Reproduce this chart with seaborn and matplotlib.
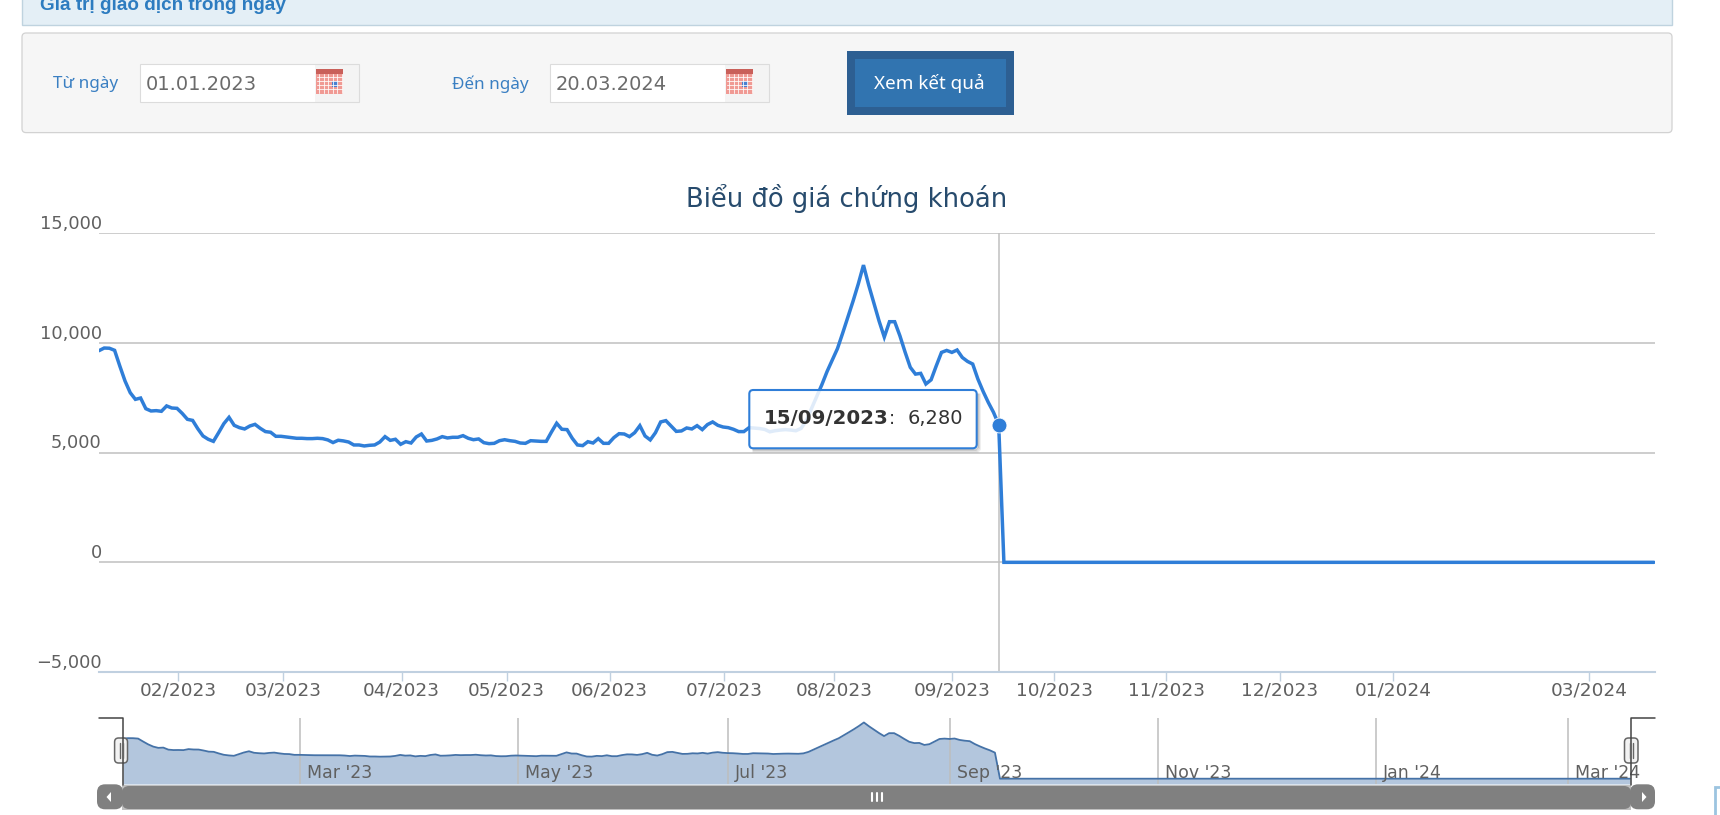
import numpy as np
import pandas as pd
import matplotlib
matplotlib.use('Agg')
import matplotlib.pyplot as plt
import matplotlib.transforms as mtrans
from matplotlib.patches import FancyBboxPatch, Rectangle, Polygon
import seaborn as sns

# --- data (one value per trading day) ---
prices_traded = [
    9650, 9770, 9760, 9665, 8950, 8270, 7735, 7430, 7490, 7005,
    6900, 6915, 6885, 7130, 7035, 7020, 6790, 6520, 6470, 6090,
    5760, 5610, 5515, 5910, 6320, 6610, 6245, 6140, 6080, 6215,
    6290, 6110, 5960, 5930, 5745, 5745, 5715, 5685, 5655, 5655,
    5640, 5640, 5655, 5640, 5580, 5460, 5565, 5535, 5485, 5350,
    5350, 5305, 5335, 5350, 5485, 5730, 5560, 5610, 5380, 5500,
    5440, 5715, 5850, 5530, 5560, 5625, 5730, 5670, 5700, 5700,
    5775, 5655, 5590, 5625, 5455, 5410, 5425, 5545, 5590, 5545,
    5515, 5440, 5425, 5545, 5530, 5515, 5515, 5940, 6340, 6065,
    6050, 5655, 5350, 5320, 5500, 5440, 5640, 5425, 5425, 5685,
    5865, 5850, 5730, 5910, 6230, 5760, 5580, 5910, 6400, 6460,
    6215, 5970, 5990, 6125, 6080, 6230, 6050, 6280, 6400, 6245,
    6170, 6140, 6065, 5960, 5960, 6140, 6120, 6100, 6060, 5950,
    6000, 6030, 6050, 6030, 6000, 6105, 6455, 7010, 7550, 8100,
    8700, 9220, 9745, 10450, 11180, 11910, 12690, 13550, 12640, 11820,
    11000, 10270, 10970, 10970, 10330, 9585, 8890, 8580, 8615, 8130,
    8320, 8960, 9570, 9660, 9570, 9680, 9340, 9160, 9040, 8355,
    7795, 7290, 6840, 6280,
]
prices_after = [0] * 126

month_pos = [15.2, 35.4, 58.2, 78.4, 98.2, 120.2, 141.4, 164, 183.7, 205.2, 227, 248.8, 286.6]
month_labels = ['02/2023', '03/2023', '04/2023', '05/2023', '06/2023', '07/2023', '08/2023',
                '09/2023', '10/2023', '11/2023', '12/2023', '01/2024', '03/2024']
y_ticks = [-5000, 0, 5000, 10000, 15000]
y_labels = ['\u22125,000', '0', '5,000', '10,000', '15,000']
nav_pos = [35.2, 78.4, 120, 164, 205.4, 248.6, 286.7]
nav_labels = ["Mar '23", "May '23", "Jul '23", "Sep '23", "Nov '23", "Jan '24", "Mar '24"]
hover_idx = 173

df = pd.DataFrame({'price': prices_traded + prices_after})
df['idx'] = np.arange(len(df))

W, H = 1720, 815
BLUE = '#2f7ed8'
GRID = '#c0c0c0'
AXIS = '#c0d0e0'
TEXT = '#606060'

sns.set_theme(style='white')
plt.rcParams['font.family'] = ['DejaVu Sans']

fig = plt.figure(figsize=(W / 100, H / 100), dpi=100, facecolor='white')


def box(x0, y0, x1, y1):
    return [x0 / W, 1 - y1 / H, (x1 - x0) / W, (y1 - y0) / H]


# --- main chart ---
ax = fig.add_axes(box(99, 233.3, 1655, 672))
ax.patch.set_alpha(0)
sns.lineplot(data=df, x='idx', y='price', ax=ax, color=BLUE, linewidth=2.5,
             estimator=None, legend=False, solid_joinstyle='miter', zorder=4)
ax.set_xlim(0, 299.2)
ax.set_ylim(-5000, 15000)
ax.set_xlabel('')
ax.set_ylabel('')
sns.despine(ax=ax, left=True, top=True, right=True)
ax.spines['bottom'].set_color(AXIS)
ax.spines['bottom'].set_linewidth(1.5)
ax.set_yticks(y_ticks)
ax.set_yticklabels(y_labels, fontsize=12.8, color=TEXT, va='baseline')
ax.set_xticks(month_pos)
ax.set_xticklabels(month_labels, fontsize=13.3, color=TEXT)
ax.tick_params(axis='y', length=0, pad=-2)
ax.tick_params(axis='x', bottom=True, length=6.5, width=1, color=AXIS, pad=0)
ax.grid(axis='y', color=GRID, linewidth=1.1)
ax.set_axisbelow(True)
up = mtrans.ScaledTranslation(0, 4.3 / 100, fig.dpi_scale_trans)
for lab in ax.get_yticklabels():
    lab.set_transform(lab.get_transform() + up)
ax.axvline(hover_idx, color=GRID, linewidth=1.1, zorder=2)
ax.scatter([hover_idx], [df['price'][hover_idx]], s=115, color=BLUE, edgecolor='white',
           linewidth=0.6, zorder=6, clip_on=False)
ax.set_title('Biểu đồ giá chứng khoán', fontsize=18.6, color='#274b6d',
             x=(847 - 99) / 1556, y=1.0, pad=19)

# --- navigator ---
nav = fig.add_axes(box(123, 718, 1631, 784))
nav.patch.set_alpha(0)
nav.fill_between(df['idx'], df['price'], -1277, color='#b3c6dd', linewidth=0)
sns.lineplot(data=df, x='idx', y='price', ax=nav, color='#4572a7', linewidth=1.3,
             estimator=None, legend=False)
nav.set_xlim(0, 299.2)
nav.set_ylim(-1277, 14626)
nav.set_xlabel('')
nav.set_ylabel('')
nav.set_xticks([])
nav.set_yticks([])
sns.despine(ax=nav, left=True, bottom=True)
for p, lab in zip(nav_pos, nav_labels):
    nav.axvline(p, color='#bdbdbd', linewidth=1.1, zorder=1)
    nav.annotate(lab, (p, 0), xycoords=('data', 'axes fraction'), xytext=(7, 6.5),
                 textcoords='offset pixels', fontsize=12.5, color=TEXT, ha='left',
                 va='baseline', annotation_clip=False)

# --- page around the chart, in pixel coordinates ---
pg = fig.add_axes([0, 0, 1, 1], zorder=10)
pg.set_xlim(0, W)
pg.set_ylim(H, 0)
pg.axis('off')
pg.patch.set_alpha(0)


def rbox(x0, y0, x1, y1, r, **kw):
    p = FancyBboxPatch((x0 + r, y0 + r), x1 - x0 - 2 * r, y1 - y0 - 2 * r,
                       boxstyle=f'round,pad={r},rounding_size={r}', **kw)
    pg.add_patch(p)
    return p


def rect(x0, y0, x1, y1, **kw):
    pg.add_patch(Rectangle((x0, y0), x1 - x0, y1 - y0, **kw))


# header strip and form panel
rect(22, -5, 1672, 24.5, facecolor='#e4eff6', edgecolor='#bfd3df', linewidth=1)
pg.text(40, 10.5, 'Giá trị giao dịch trong ngày', fontsize=13.6, fontweight='bold',
        color='#2d7cc0', family='Liberation Sans', va='baseline')
rbox(22, 33, 1672, 132.6, 4, facecolor='#f6f6f6', edgecolor='#d2d2d2', linewidth=0.9)


def calendar(x0, y0):
    rect(x0 - 1.5, y0 - 5, x0 + 43, y0 + 32.7, facecolor='#f4f4f4', edgecolor='none')
    rect(x0, y0, x0 + 27, y0 + 25, facecolor='#f09a94', edgecolor='none')
    rect(x0, y0, x0 + 27, y0 + 5, facecolor='#c9605a', edgecolor='none')
    for gx in np.arange(x0 + 3, x0 + 27, 4.5):
        pg.plot([gx, gx], [y0 + 5, y0 + 24], color='white', lw=0.7, alpha=0.8)
    for gy in np.arange(y0 + 8, y0 + 24, 4):
        pg.plot([x0 + 1, x0 + 26], [gy, gy], color='white', lw=0.7, alpha=0.8)
    rect(x0 + 16, y0 + 12, x0 + 22, y0 + 18, facecolor='#4a80d0', edgecolor='none')


for x0, x1, label_x, label, value, value_x in [
        (140, 359, 53, 'Từ ngày', '01.01.2023', 146),
        (550, 769, 452.5, 'Đến ngày', '20.03.2024', 556)]:
    rect(x0, 64, x1, 101.7, facecolor='white', edgecolor='none')
    calendar(x1 - 43, 69)
    rect(x0, 64, x1, 101.7, facecolor='none', edgecolor='#dcdcdc', linewidth=0.8)
    pg.text(label_x, 84, label, fontsize=12.3, color='#3a7fc2', family='Noto Sans', va='center')
    pg.text(value_x, 84, value, fontsize=14, color='#6b6b6b', va='center')

rect(847, 51, 1013.7, 115, facecolor='#2d5f92', edgecolor='none')
rect(855, 59, 1006, 107, facecolor='#3174b0', edgecolor='none')
pg.text(929.5, 83.5, 'Xem kết quả', fontsize=13.6, color='white', family='Noto Sans',
        ha='center', va='center')

# tooltip: soft shadow along the lower and right edges only, so the box stays white
for off, a in [(3.5, 0.07), (2.5, 0.12), (1.5, 0.2)]:
    pg.plot([753, 976.7 + off - 2, 976.7 + off, 976.7 + off],
            [448.3 + off, 448.3 + off, 446 + off, 394], color='black', alpha=a, lw=1)
rbox(749.3, 390, 976.7, 448.3, 4, facecolor=(1, 1, 1, 0.85), edgecolor=BLUE, linewidth=1.5)
pg.text(764, 418, '15/09/2023', fontsize=14.2, fontweight='bold', color='#333333', va='center')
pg.text(889, 418, ':', fontsize=13.4, color='#333333', va='center')
pg.text(963, 418, '6,280', fontsize=14, color='#333333', ha='right', va='center')

# navigator handles
for xl, xe, h0, h1 in [(123, 99, 114.6, 127.5), (1631, 1655, 1624.5, 1638)]:
    pg.plot([xe, xl, xl], [718.3, 718.3, 785], color='#444444', lw=1.1)
    rbox(h0, 738, h1, 763, 4, facecolor='#f2f2f2', edgecolor='#666666', linewidth=1.1)
    mid = (h0 + h1) / 2
    pg.plot([mid - 1.5, mid - 1.5], [743, 758], color='#666666', lw=1)
    pg.plot([mid + 1.5, mid + 1.5], [743, 758], color='#666666', lw=1)

# scrollbar
rect(122, 785, 1631, 809.5, facecolor='#bfbfbf', edgecolor='none')
rbox(122, 786, 1631, 809, 7, facecolor='#808080', edgecolor='none')
rbox(97, 784.3, 123, 809.3, 8, facecolor='#808080', edgecolor='none')
rbox(1630, 784.3, 1655, 809.3, 8, facecolor='#808080', edgecolor='none')
pg.add_patch(Polygon([[111, 792], [111, 802], [106.5, 797]], facecolor='white', edgecolor='none'))
pg.add_patch(Polygon([[1642, 792], [1642, 802], [1646.5, 797]], facecolor='white', edgecolor='none'))
for gx in [871.5, 876.5, 881.5]:
    pg.plot([gx, gx], [792.5, 801], color='white', lw=1.5)

# corner of a widget at the lower right
rect(1714.5, 786.5, 1725, 820, facecolor='white', edgecolor='#9cc4e0', linewidth=2)

fig.savefig('out.png', dpi=100, facecolor='white')
